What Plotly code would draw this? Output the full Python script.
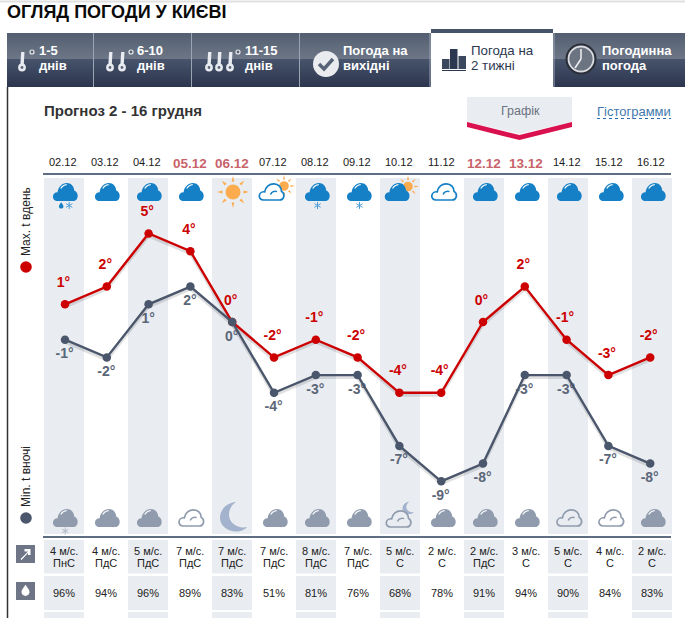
import math
import plotly.graph_objects as go

# Forecast for 2-16 December
dates = ["02.12", "03.12", "04.12", "05.12", "06.12", "07.12", "08.12", "09.12",
         "10.12", "11.12", "12.12", "13.12", "14.12", "15.12", "16.12"]
weekend_days = ["05.12", "06.12", "12.12", "13.12"]
temp_max = [1, 2, 5, 4, 0, -2, -1, -2, -4, -4, 0, 2, -1, -3, -2]
temp_min = [-1, -2, 1, 2, 0, -4, -3, -3, -7, -9, -8, -3, -3, -7, -8]
wind_speed = [4, 4, 5, 7, 7, 7, 8, 7, 5, 2, 2, 3, 5, 4, 2]
wind_dir = ["ПнС", "ПдС", "ПдС", "ПдС", "ПдС", "ПдС", "ПдС", "ПдС",
            "С", "С", "ПдС", "С", "С", "С", "С"]
humidity = [96, 94, 96, 89, 83, 51, 81, 76, 68, 78, 91, 94, 90, 84, 83]
sky_day = ["rain_snow", "cloud", "cloud", "cloud", "sun", "light_sun", "snow", "snow",
           "cloud_sun", "light", "cloud", "cloud", "cloud", "cloud", "cloud"]
sky_night = ["snow", "cloud", "cloud", "light", "moon", "cloud", "cloud", "cloud",
             "light_moon", "cloud", "cloud", "cloud", "light", "light", "cloud"]

W, H = 685, 618
COL0, COL_STEP = 64.0, 42.0      # pixel centre of the first day column, pixels per column
CURVE0, CURVE_STEP = 65.0, 41.8  # the curves run on a slightly tighter grid
ZERO_Y, DEG_STEP = 322.0, 17.7   # pixel row of 0 degrees, pixels per degree
FONT = "Liberation Sans"

BAND = "#e9ecf1"
RULE = "#5f6d82"
RED = "#cc0000"
SLATE = "#4a566b"
BLUE = "#1580c6"
GREY_CLOUD = "#909cae"
ORANGE = "#fcab4e"

shapes, notes = [], []


def fx(px):
    return px / W


def fy(py):
    return 1 - py / H


def text(px, py, s, size=12, color="#222", bold=False, anchor="center", angle=0):
    notes.append(dict(
        x=fx(px), y=fy(py), xref="paper", yref="paper", text=f"<b>{s}</b>" if bold else s,
        showarrow=False, xanchor=anchor, yanchor="middle", textangle=angle, borderpad=0, borderwidth=0,
        font=dict(family=FONT, size=size, color=color),
    ))


def rect(x0, y0, x1, y1, fill, layer="below"):
    shapes.append(dict(type="rect", xref="paper", yref="paper", x0=fx(x0), x1=fx(x1),
                       y0=fy(y0), y1=fy(y1), fillcolor=fill, line_width=0, layer=layer))


def line(x0, y0, x1, y1, color, width=1, dash="solid"):
    shapes.append(dict(type="line", xref="paper", yref="paper", x0=fx(x0), x1=fx(x1),
                       y0=fy(y0), y1=fy(y1), line=dict(color=color, width=width, dash=dash), layer="below"))


def disc(cx, cy, r, fill, border=None, bw=0):
    shapes.append(dict(type="circle", xref="paper", yref="paper", x0=fx(cx - r), x1=fx(cx + r),
                       y0=fy(cy - r), y1=fy(cy + r), fillcolor=fill,
                       line=dict(color=border or fill, width=bw), layer="below"))


def glyph(points_path, px, py, fill=None, stroke=None, width=0):
    """Pixel-sized path anchored at a page position; the path is written y-down."""
    res, is_y = [], False
    for tok in points_path.split():
        if tok.isalpha():
            res.append(tok)
            is_y = False
        else:
            res.append(str(-float(tok)) if is_y else tok)
            is_y = not is_y
    shapes.append(dict(type="path", xref="paper", yref="paper", xsizemode="pixel", ysizemode="pixel",
                       xanchor=fx(px), yanchor=fy(py), path=" ".join(res),
                       fillcolor=fill or "rgba(0,0,0,0)",
                       line=dict(color=stroke or "rgba(0,0,0,0)", width=width), layer="below"))


CLOUD = ("M -8 18 C -11 18 -12.5 15.5 -12.2 13 C -11.8 10.6 -9.8 9 -7.6 9.2 C -7 4 -3 0 1.5 0 "
         "C 6 0 9 3.5 9 7.6 C 11 8 12.5 10.5 12.5 13 C 12.5 16 10.4 18 8 18 Z")
LIGHT_CLOUD = ("M -8 17 C -11 17 -12.4 14.8 -12.2 12.6 C -11.8 10 -9.4 8.4 -6.8 8.8 C -6 4 -2 0.6 2.5 0.8 "
               "C 7 1 10 4.4 10 8.4 C 11.6 9.4 12.6 11 12.4 13 C 12 15.6 10.4 17 8 17 Z")


def cloud(cx, top, color, highlight=True):
    glyph(CLOUD, cx, top, fill=color)
    if highlight:
        glyph("M -4.5 5.5 C -3 3 -1 1.8 1.5 1.6", cx, top, stroke="#ffffff", width=1.1)


def light_cloud(cx, top, color):
    glyph(LIGHT_CLOUD, cx, top, fill="#ffffff" if color == BLUE else None, stroke=color, width=1.7)
    glyph("M -1 11.5 C 0 8.8 3 7.8 5.5 8.6", cx, top, stroke=color, width=1.5)


def sun(cx, cy, r, ray_in, ray_out):
    for k in range(8):
        a = k * math.pi / 4
        dx, dy = math.cos(a), math.sin(a)
        w = 1.4 if r > 6 else 1.0
        glyph(f"M {ray_in * dx - w * dy:.2f} {ray_in * dy + w * dx:.2f} "
              f"L {ray_out * dx:.2f} {ray_out * dy:.2f} "
              f"L {ray_in * dx + w * dy:.2f} {ray_in * dy - w * dx:.2f} Z", cx, cy, fill=ORANGE)
    disc(cx, cy, r, ORANGE)


def flake(cx, cy, color, r=3.6):
    for k in range(3):
        a = k * math.pi / 3 + math.pi / 2
        dx, dy = r * math.cos(a), r * math.sin(a)
        line(cx - dx, cy - dy, cx + dx, cy + dy, color, 1)


def drop(cx, cy, color, s=1.0):
    glyph(f"M 0 {-4.2 * s} C {1.6 * s} {-1.8 * s} {3 * s} {-0.4 * s} {3 * s} {1.2 * s} "
          f"C {3 * s} {3 * s} {1.6 * s} {4 * s} 0 {4 * s} "
          f"C {-1.6 * s} {4 * s} {-3 * s} {3 * s} {-3 * s} {1.2 * s} "
          f"C {-3 * s} {-0.4 * s} {-1.6 * s} {-1.8 * s} 0 {-4.2 * s} Z", cx, cy, fill=color)


def moon(cx, cy, scale, color):
    s = scale
    glyph(f"M {3 * s} {-15 * s} C {-8 * s} {-14 * s} {-13 * s} {-6 * s} {-13 * s} {1 * s} "
          f"C {-13 * s} {9 * s} {-5 * s} {14.5 * s} {3 * s} {14.5 * s} C {8 * s} {14.5 * s} {12 * s} {12.5 * s} {14 * s} {10 * s} "
          f"C {5 * s} {12 * s} {-4 * s} {6 * s} {-4 * s} {-2 * s} C {-4 * s} {-8 * s} {-1 * s} {-12.5 * s} {3 * s} {-15 * s} Z",
          cx, cy, fill=color)


def column_x(i):
    return COL0 + COL_STEP * i


# ---- page furniture ----------------------------------------------------------
line(0, 1.5, W, 1.5, "#e0e0e0", 2)
text(7, 12.5, "ОГЛЯД ПОГОДИ У КИЄВІ", size=18, color="#0a0a0a", bold=True, anchor="left")

# tab strip: two-stage vertical gradient
for row in range(33, 87):
    if row < 59:
        t = (row - 33) / 25
        c = (int(84 + 24 * t), int(96 + 22 * t), int(113 + 22 * t))
    else:
        t = (row - 59) / 27
        c = (int(72 - 28 * t), int(84 - 30 * t), int(108 - 30 * t))
    rect(7, row, W, row + 1, f"rgb({c[0]},{c[1]},{c[2]})")
for sep in (93.5, 191.5, 299.5, 430, 554):
    line(sep, 33, sep, 87, "#9aa5b4", 1)
rect(431, 33, 553, 87, "#ffffff")
rect(431, 29, 553, 33, "#46546a")
line(7.5, 87, 7.5, H, "#333333", 1.5)

TAB_TXT = dict(size=13, color="#ffffff", bold=True, anchor="left")
text(39, 50.5, "1-5", **TAB_TXT)
text(39, 66, "днів", **TAB_TXT)
text(137, 50.5, "6-10", **TAB_TXT)
text(137, 66, "днів", **TAB_TXT)
text(245, 50.5, "11-15", **TAB_TXT)
text(245, 66, "днів", **TAB_TXT)
text(343, 50, "Погода на", size=13, color="#ffffff", bold=True, anchor="left")
text(343, 66, "вихідні", size=13, color="#ffffff", bold=True, anchor="left")
text(471, 50, "Погода на", size=13.3, color="#2c3850", anchor="left")
text(471, 66, "2 тижні", size=13.3, color="#2c3850", anchor="left")
text(602, 50, "Погодинна", size=13, color="#ffffff", bold=True, anchor="left")
text(602, 66, "погода", size=13, color="#ffffff", bold=True, anchor="left")

# thermometers on the range tabs
for stems, ring in (((22,), 32), ((110, 122), 131), ((209, 219, 230), 238)):
    for sx in stems:
        line(sx + 0.8, 52, sx, 66, "#e8ebef", 3.4)
        disc(sx, 67.5, 3.9, "#e8ebef")
        disc(sx, 67.5, 1.4, "#5b6678")
    disc(ring, 52, 2, "#55616f", "#e8ebef", 1.2)

# weekend tab tick
disc(326, 64, 13, "#e9ebef")
glyph("M -7 0 L -2 5 L 7 -5", 326, 64, stroke="#566376", width=3.4)

# bars icon on the active tab
rect(442, 59, 449.5, 69, "#3b475d")
rect(450, 49, 457.5, 69, "#2c3850")
rect(458.5, 56, 466, 69, "#3b475d")
rect(442, 70, 466, 71, "#2c3850")

# clock
disc(581, 59, 15.5, "#2a2e38")
disc(581, 59, 12.5, "#6c7482", "#d9dce1", 1.8)
line(581, 59, 581, 49, "#f0f1f3", 1.5)
line(581, 59, 575, 68, "#f0f1f3", 1.5)

text(44, 110, "Прогноз 2 - 16 грудня", size=15, color="#333333", bold=True, anchor="left")

# chart-type switch with its chevron
glyph("M -52.5 -14 L 52.5 -14 L 52.5 11 L 0 23 L -52.5 11 Z", 519.5, 111, fill=BAND)
glyph("M -52.5 11 L 0 24 L 52.5 11 L 52.5 16 L 0 29 L -52.5 16 Z", 519.5, 111, fill="#d9124f")
text(520, 111, "Графік", size=12.5, color="#6b7280")
text(597, 111, "Гістограмми", size=13, color="#4379ad", anchor="left")
line(597, 118.5, 671, 118.5, "#2a6cab", 1, "dot")

# ---- day columns -------------------------------------------------------------
for row_top, row_bottom in ((178, 534), (540, 573.5), (576, 610), (612, H)):
    for i in range(0, len(dates), 2):
        shapes.append(dict(type="rect", xref="x", yref="paper", x0=i - 20 / COL_STEP, x1=i + 20 / COL_STEP,
                           y0=fy(row_top), y1=fy(row_bottom), fillcolor=BAND, line_width=0, layer="below"))
line(43, 174, 671, 174, RULE, 2.2)
line(43, 537, 671, 537, RULE, 2.2)

for i, day in enumerate(dates):
    cx = column_x(i)
    if day in weekend_days:
        text(cx, 164, day, size=13.5, color="#c9636b", bold=True)
    else:
        text(cx - 1, 162, day, size=11, color="#1a1a1a")
    text(cx, 550.5, f"{wind_speed[i]} м/с.", size=11, color="#222222")
    text(cx, 562.5, wind_dir[i], size=11, color="#222222")
    text(cx, 593, f"{humidity[i]}%", size=11, color="#222222")

    kind = sky_day[i]
    c = cx + 1.2
    if kind in ("cloud", "rain_snow", "snow"):
        cloud(c, 183, BLUE)
    if kind == "rain_snow":
        drop(c - 4, 205.5, BLUE, 0.75)
        flake(c + 4, 205.5, "#4b9ed8")
    if kind == "snow":
        flake(c + 0.3, 205.5, "#4b9ed8")
    if kind == "sun":
        sun(cx + 1, 192, 7.5, 10.5, 16)
    if kind == "light_sun":
        sun(cx + 10, 186, 4.8, 6.5, 11)
        light_cloud(cx - 2.5, 183, BLUE)
    if kind == "cloud_sun":
        sun(cx + 8, 186.5, 4.8, 6.5, 11)
        cloud(cx - 3, 183, BLUE)
    if kind == "light":
        light_cloud(cx + 2, 183, BLUE)

    kind = sky_night[i]
    if kind in ("cloud", "snow"):
        cloud(c, 509, GREY_CLOUD)
    if kind == "snow":
        flake(c, 531, "#b4bcc9")
    if kind == "light":
        light_cloud(c, 509, GREY_CLOUD)
    if kind == "moon":
        moon(cx + 1, 517, 1.0, "#a3b3cd")
    if kind == "light_moon":
        moon(cx + 8, 508, 0.42, "#a3b3cd")
        light_cloud(cx - 1.5, 510, GREY_CLOUD)

# ---- row headers and series keys ---------------------------------------------
rect(16, 545, 35, 563, "#6d7586")
glyph("M -5 5 L 2.5 -2.5 L -1 -2.5 L -1 -5 L 5 -5 L 5 1 L 2.5 1 L 2.5 -1 L -4 6 Z", 25.5, 554, fill="#ffffff")
rect(16, 582, 35, 600, "#6d7586")
drop(25.5, 590.5, "#ffffff", 1.35)

text(26, 222, "Max. t вдень", size=12, color="#222222", angle=-90)
disc(26, 267, 5.8, RED)
text(26, 477, "Min. t вночі", size=12, color="#222222", angle=-90)
disc(26, 518, 5.8, SLATE)

# ---- temperature curves ------------------------------------------------------
xs = list(range(len(dates)))
fmt = [f"{v}°" for v in temp_max]
fmt_min = [f"{v}°" for v in temp_min]
fig = go.Figure()
# value labels go first so the curves pass over them
fig.add_trace(go.Scatter(
    x=[i - 1.5 / CURVE_STEP for i in xs], y=[v + 21 / DEG_STEP for v in temp_max], mode="text", text=fmt,
    textposition="middle center", textfont=dict(family=FONT, size=14, color=RED, weight="bold"),
    xaxis="x2", hoverinfo="skip", showlegend=False))
fig.add_trace(go.Scatter(
    x=[i - 0.5 / CURVE_STEP for i in xs], y=[v - 15 / DEG_STEP for v in temp_min], mode="text", text=fmt_min,
    textposition="middle center", textfont=dict(family=FONT, size=14, color="#5b6678", weight="bold"),
    xaxis="x2", hoverinfo="skip", showlegend=False))
for series, color in ((temp_max, RED), (temp_min, SLATE)):
    fig.add_trace(go.Scatter(x=xs, y=[v - 2.5 / DEG_STEP for v in series], mode="lines", xaxis="x2",
                             line=dict(color="rgba(60,60,60,0.16)", width=3), hoverinfo="skip", showlegend=False))
    fig.add_trace(go.Scatter(x=xs, y=series, mode="lines+markers", xaxis="x2",
                             line=dict(color=color, width=2.4),
                             marker=dict(color=color, size=8.5), showlegend=False))

fig.update_layout(
    width=W, height=H, autosize=False, margin=dict(l=0, r=0, t=0, b=0, pad=0),
    paper_bgcolor="#ffffff", plot_bgcolor="rgba(0,0,0,0)", showlegend=False,
    xaxis=dict(range=[-COL0 / COL_STEP, (W - COL0) / COL_STEP], visible=False, fixedrange=True),
    xaxis2=dict(range=[-CURVE0 / CURVE_STEP, (W - CURVE0) / CURVE_STEP], visible=False, fixedrange=True,
                overlaying="x", anchor="y"),
    yaxis=dict(range=[(ZERO_Y - H) / DEG_STEP, ZERO_Y / DEG_STEP], visible=False, fixedrange=True),
    shapes=shapes, annotations=notes,
)
fig.write_html("out.html", config=dict(displayModeBar=False))
